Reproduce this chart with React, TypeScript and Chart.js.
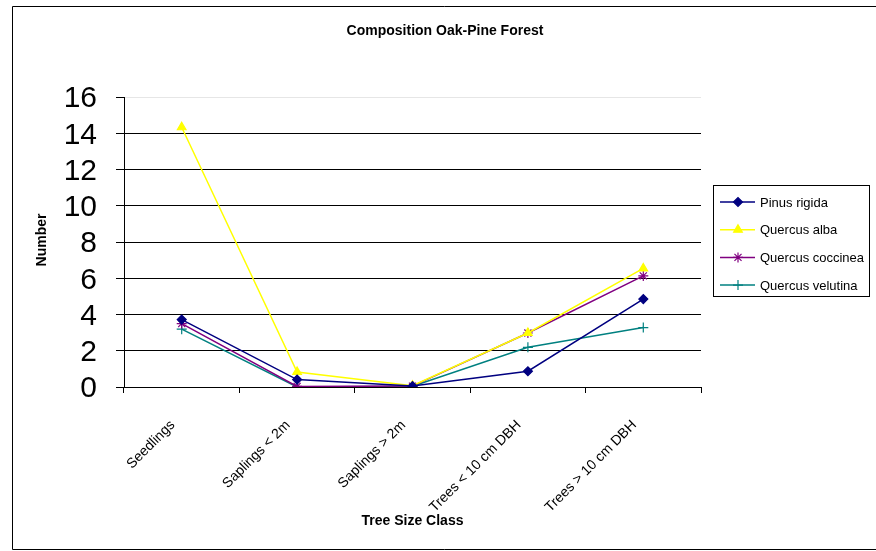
import React, { useEffect, useRef } from "react";
import { Chart, registerables } from "chart.js";
import { drawPoint } from "chart.js/helpers";

Chart.register(...registerables);

const categories = ["Seedlings", "Saplings < 2m", "Saplings > 2m", "Trees < 10 cm DBH", "Trees > 10 cm DBH"];
const pinusRigida = [3.72, 0.41, 0.05, 0.87, 4.85];
const quercusAlba = [14.33, 0.83, 0.07, 2.98, 6.54];
const quercusCoccinea = [3.5, 0.03, 0.05, 2.98, 6.13];
const quercusVelutina = [3.19, 0.0, 0.04, 2.19, 3.28];
const yTicks = [0, 2, 4, 6, 8, 10, 12, 14, 16];

const titleText = "Composition Oak-Pine Forest";
const xTitle = "Tree Size Class";
const yTitle = "Number";

const SANS = '"Liberation Sans", Arial, sans-serif';

const seriesDefs = [
  { label: "Pinus rigida", data: pinusRigida, color: "#000080", style: "rectRot", radius: 4.5 },
  { label: "Quercus alba", data: quercusAlba, color: "#FFFF00", style: "triangle", radius: 5 },
  { label: "Quercus coccinea", data: quercusCoccinea, color: "#800080", style: "star", radius: 5 },
  { label: "Quercus velutina", data: quercusVelutina, color: "#008080", style: "cross", radius: 5 },
];

const decorPlugin = {
  id: "decor",
  afterDraw(chart: any) {
    const ctx = chart.ctx as CanvasRenderingContext2D;
    const area = chart.chartArea;
    ctx.save();
    // outer border
    ctx.strokeStyle = "#000";
    ctx.lineWidth = 1;
    ctx.beginPath();
    ctx.moveTo(880, 6.5);
    ctx.lineTo(12.5, 6.5);
    ctx.lineTo(12.5, 549.5);
    ctx.lineTo(880, 549.5);
    ctx.stroke();

    // title
    ctx.fillStyle = "#000";
    ctx.textAlign = "center";
    ctx.textBaseline = "middle";
    ctx.font = `bold 14px ${SANS}`;
    ctx.fillText(titleText, 445, 31);
    // x title
    ctx.fillText(xTitle, (area.left + area.right) / 2, 521);
    // y title
    ctx.save();
    ctx.translate(42, 240);
    ctx.rotate(-Math.PI / 2);
    ctx.fillText(yTitle, 0, 0);
    ctx.restore();

    // legend
    const bx = 713.5, by = 185.5, bw = 156, bh = 111;
    ctx.strokeStyle = "#000";
    ctx.lineWidth = 1;
    ctx.strokeRect(bx, by, bw, bh);
    ctx.font = `13px ${SANS}`;
    ctx.textAlign = "left";
    chart.data.datasets.forEach((ds: any, i: number) => {
      const y = 202 + i * 27.7;
      ctx.strokeStyle = ds.borderColor;
      ctx.lineWidth = 1.5;
      ctx.beginPath();
      ctx.moveTo(720, y);
      ctx.lineTo(755, y);
      ctx.stroke();
      ctx.fillStyle = ds.pointBackgroundColor;
      ctx.strokeStyle = ds.pointBorderColor;
      ctx.lineWidth = 1.2;
      drawPoint(ctx, { pointStyle: ds.pointStyle, radius: ds.pointRadius, borderWidth: 1.2, rotation: 0 } as any, 738, y);
      ctx.fillStyle = "#000";
      ctx.fillText(ds.label, 760, y + 1);
    });
    ctx.restore();
  },
};

export default function App() {
  const ref = useRef<HTMLCanvasElement | null>(null);
  useEffect(() => {
    document.body.style.margin = "0";
    const canvas = ref.current!;
    const chart = new Chart(canvas, {
      type: "line",
      data: {
        labels: categories,
        datasets: seriesDefs.map((s) => ({
          label: s.label,
          data: s.data,
          borderColor: s.color,
          backgroundColor: s.color,
          pointBackgroundColor: s.color,
          pointBorderColor: s.color,
          pointStyle: s.style as any,
          pointRadius: s.radius,
          pointBorderWidth: 1.2,
          borderWidth: 1.5,
          tension: 0,
          fill: false,
        })),
      },
      options: {
        animation: false,
        responsive: false,
        devicePixelRatio: 1,
        layout: { padding: { left: 0, right: 175, top: 97, bottom: 0 } },
        plugins: {
          legend: { display: false },
          title: { display: false },
          tooltip: { enabled: false },
        },
        scales: {
          x: {
            type: "category",
            offset: true,
            afterFit(scale: any) {
              scale.height = 164;
            },
            grid: {
              offset: true,
              drawOnChartArea: false,
              drawTicks: true,
              tickLength: 6,
              color: "#000",
            },
            border: { color: "#000", width: 1 },
            ticks: {
              maxRotation: 45,
              minRotation: 45,
              autoSkip: false,
              padding: 24,
              labelOffset: -9,
              color: "#000",
              font: { family: SANS, size: 14 },
            },
          },
          y: {
            min: 0,
            max: 16,
            afterFit(scale: any) {
              scale.width = 124;
            },
            afterBuildTicks(scale: any) {
              scale.ticks = yTicks.map((v) => ({ value: v }));
            },
            grid: {
              color: (c: any) => (c.tick && c.tick.value === 16 ? "#e6e6e6" : "#000"),
              tickColor: "#000",
              tickLength: 8,
              lineWidth: 1,
            },
            border: { color: "#000", width: 1 },
            ticks: {
              autoSkip: false,
              padding: 19,
              labelOffset: 2,
              color: "#000",
              font: { family: SANS, size: 30 },
            },
          },
        },
      },
      plugins: [decorPlugin],
    });
    return () => chart.destroy();
  }, []);
  return (
    <div style={{ position: "fixed", left: 0, top: 0, width: 876, height: 551, background: "#fff" }}>
      <canvas ref={ref} width={876} height={551} style={{ width: 876, height: 551 }} />
    </div>
  );
}
